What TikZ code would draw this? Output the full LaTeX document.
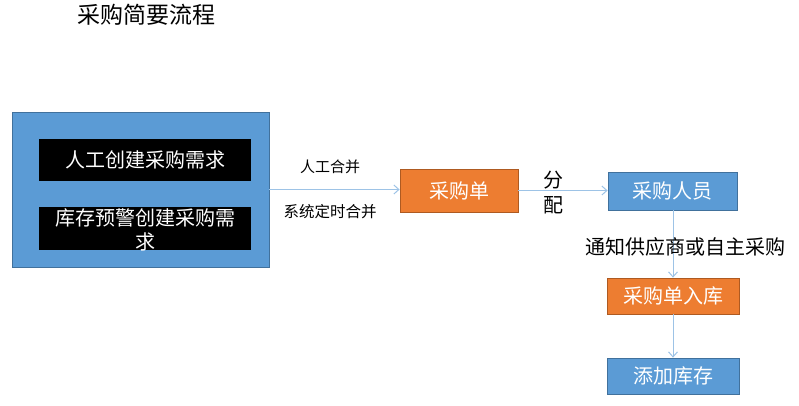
\documentclass[tikz,border=0pt]{standalone}
\usepackage{fontspec}
\setmainfont{Noto Sans CJK SC}
\usetikzlibrary{arrows.meta}
\definecolor{boxblue}{HTML}{5B9BD5}
\definecolor{boxblueline}{HTML}{41719C}
\definecolor{boxorange}{HTML}{ED7D31}
\definecolor{boxorangeline}{HTML}{AE5A21}
\definecolor{arrowblue}{HTML}{9DC3E6}
\tikzset{
  bluebox/.style={draw=boxblueline, fill=boxblue, line width=0.8pt, text=white, inner sep=0pt, font=\fontsize{20}{24}\selectfont},
  orangebox/.style={draw=boxorangeline, fill=boxorange, line width=0.8pt, text=white, inner sep=0pt, font=\fontsize{20}{24}\selectfont},
  blackbox/.style={fill=black, text=white, inner sep=0pt, align=center, font=\fontsize{20}{24}\selectfont},
  flow/.style={draw=arrowblue, line width=1pt, -{Straight Barb[length=5pt,width=9pt]}},
  lbl/.style={inner sep=0pt, text=black}
}
\begin{document}
\begin{tikzpicture}[x=1pt,y=-1pt]
\useasboundingbox (0,0) rectangle (799,405);
\node[lbl, font=\fontsize{23}{26}\selectfont] (title) at (146,15) {采购简要流程};
\node[bluebox, minimum width=257pt, minimum height=155pt] (big) at (140.5,189.5) {};
\node[blackbox, minimum width=212pt, minimum height=42pt] (b1) at (145,160) {人工创建采购需求};
\node[blackbox, minimum width=212pt, minimum height=43pt] (b2) at (145,228.5) {};
\node[lbl, text=white, align=center, font=\fontsize{20}{24}\selectfont] (b2t) at (145,230) {库存预警创建采购需\\求};
\node[orangebox, minimum width=118pt, minimum height=43pt] (cgd) at (459,190.5) {采购单};
\node[bluebox, minimum width=129pt, minimum height=38pt] (ry) at (672.5,191) {采购人员};
\node[orangebox, minimum width=132pt, minimum height=36pt] (rk) at (673,296) {采购单入库};
\node[bluebox, minimum width=132pt, minimum height=36pt] (kc) at (673,376) {添加库存};
\draw[flow] (big.east) -- (big.east -| cgd.west);
\draw[flow] (cgd.east) -- (cgd.east -| ry.west);
\draw[flow] (ry.south -| rk.north) -- (rk.north);
\draw[flow] (rk.south) -- (kc.north);
\node[lbl, font=\fontsize{15}{18}\selectfont] (l1) at (330,167) {人工合并};
\node[lbl, font=\fontsize{15.5}{18}\selectfont] (l2) at (330,212) {系统定时合并};
\node[lbl, align=center, font=\fontsize{20}{25}\selectfont] (l3) at (553,192.5) {分\\配};
\node[lbl, font=\fontsize{20}{24}\selectfont] (l4) at (685,247) {通知供应商或自主采购};
\end{tikzpicture}
\end{document}
